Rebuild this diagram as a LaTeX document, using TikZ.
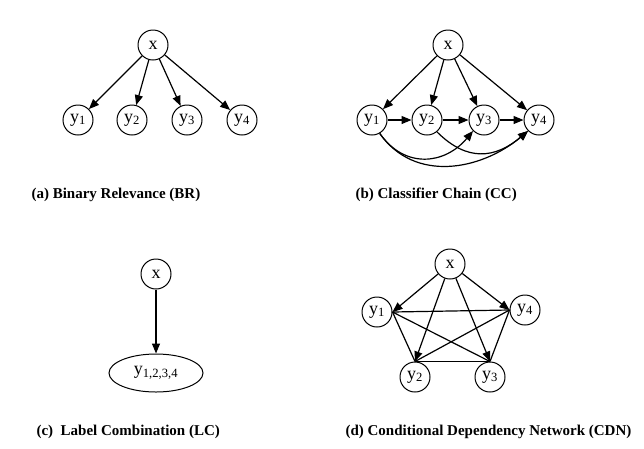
\documentclass[tikz,border=0pt]{standalone}
\usepackage{fontspec}
\setmainfont{Liberation Serif}
\usetikzlibrary{arrows.meta,shapes.geometric}

\begin{document}
\begin{tikzpicture}[
  x=1pt, y=-1pt,
  every node/.style={font=\fontsize{18}{18}\selectfont},
  var/.style={draw, circle, minimum size=30pt, inner sep=0pt, line width=1pt},
  joint/.style={draw, ellipse, minimum width=94pt, minimum height=38pt, inner sep=0pt, line width=1pt},
  caption/.style={anchor=west, font=\fontsize{15}{15}\selectfont\bfseries},
  dep/.style={-{Triangle[length=10pt,width=8pt]}, line width=1.2pt},
  link/.style={line width=1.2pt}]

\useasboundingbox (0,0) rectangle (644,448);

% (a) binary relevance
\node[var] (ax)  at (153,45)  {x};
\node[var] (ay1) at (78,120)  {y\textsubscript{1}};
\node[var] (ay2) at (132,120) {y\textsubscript{2}};
\node[var] (ay3) at (187,120) {y\textsubscript{3}};
\node[var] (ay4) at (242,120) {y\textsubscript{4}};
\node[caption] (acap) at (28,195) {(a) Binary Relevance (BR)};

\draw[dep] (ax) -- (ay1);
\draw[dep] (ax) -- (ay2);
\draw[dep] (ax) -- (ay3);
\draw[dep] (ax) -- (ay4);

% (b) classifier chain
\node[var] (bx)  at (448,45)  {x};
\node[var] (by1) at (372,120) {y\textsubscript{1}};
\node[var] (by2) at (427,120) {y\textsubscript{2}};
\node[var] (by3) at (484,120) {y\textsubscript{3}};
\node[var] (by4) at (539,120) {y\textsubscript{4}};
\node[caption] (bcap) at (352,195) {(b) Classifier Chain (CC)};

\draw[dep] (bx) -- (by1);
\draw[dep] (bx) -- (by2);
\draw[dep] (bx) -- (by3);
\draw[dep] (bx) -- (by4);
\draw[dep] (by1) -- (by2);
\draw[dep] (by2) -- (by3);
\draw[dep] (by3) -- (by4);
\draw[dep] (by1.-60) to[out=-55, in=-130, looseness=1.2] (by3.-135);
\draw[dep] (by1.-60) to[out=-55, in=-140, looseness=1.05] (by4.-135);
\draw[dep] (by2.-50) to[out=-45, in=-140, looseness=1.2] (by4.-135);

% (c) label combination
\node[var]   (cx) at (156,274) {x};
\node[joint] (cy) at (156,373) {y\textsubscript{1,2,3,4}};
\node[caption] (ccap) at (33,432) {(c)\ \ Label Combination (LC)};

\draw[dep] (cx) -- (cy);

% (d) conditional dependency network
\node[var] (dx)  at (450,264) {x};
\node[var] (dy1) at (377,312) {y\textsubscript{1}};
\node[var] (dy4) at (525,310) {y\textsubscript{4}};
\node[var] (dy2) at (415,377) {y\textsubscript{2}};
\node[var] (dy3) at (490,377) {y\textsubscript{3}};
\node[caption] (dcap) at (342,432) {(d) Conditional Dependency Network (CDN)};

\draw[dep] (dx) -- (dy1.east);
\draw[dep] (dx) -- (dy4.west);
\draw[dep] (dx) -- (dy2.north);
\draw[dep] (dx) -- (dy3.north);
\draw[link] (dy1.east)  -- (dy4.west);
\draw[link] (dy1.east)  -- (dy2.north);
\draw[link] (dy1.east)  -- (dy3.north);
\draw[link] (dy4.west)  -- (dy2.north);
\draw[link] (dy4.west)  -- (dy3.north);
\draw[link] (dy2.north) -- (dy3.north);
\end{tikzpicture}
\end{document}
